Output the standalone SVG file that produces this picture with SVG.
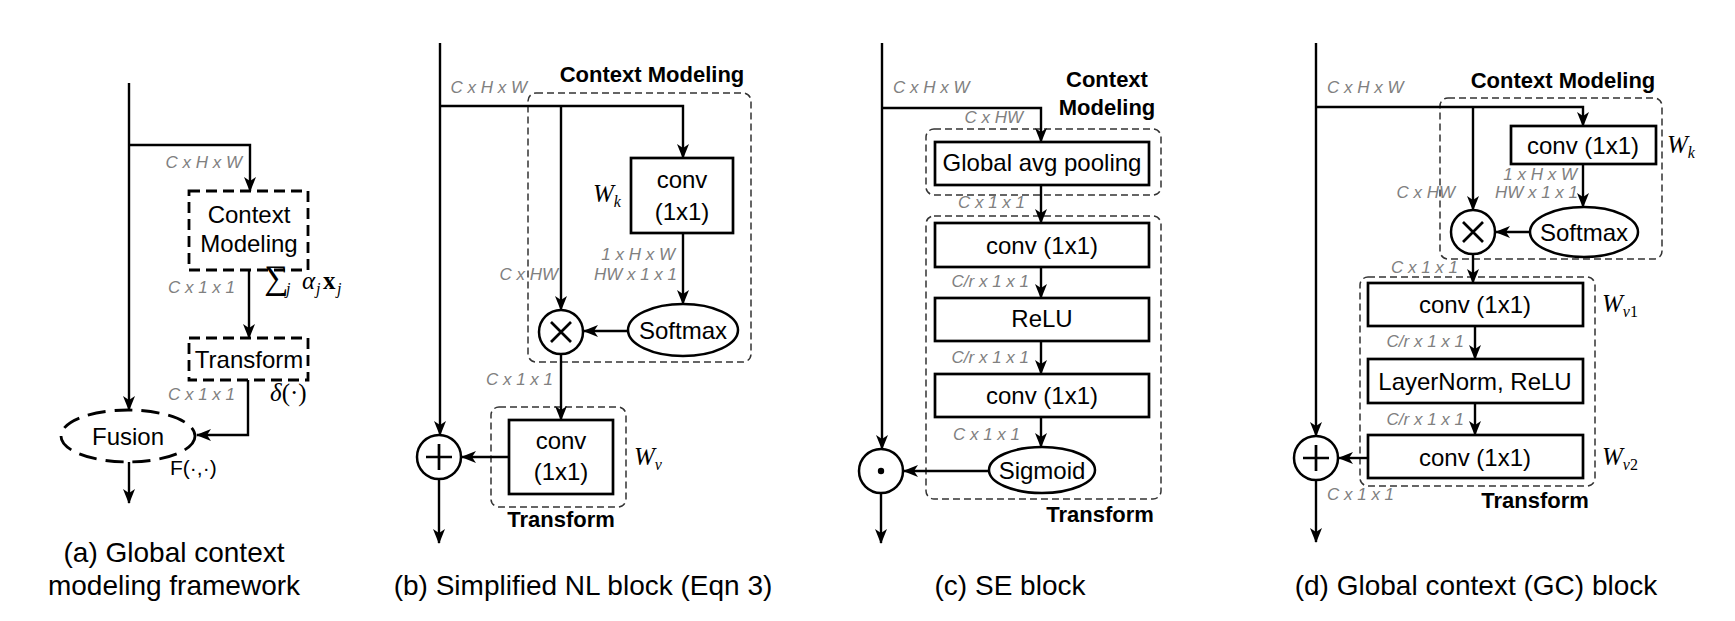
<svg xmlns="http://www.w3.org/2000/svg" width="1735" height="621" viewBox="0 0 1735 621">
<style>
.ln{stroke:#000;stroke-width:2.4;fill:none}
.ar{marker-end:url(#ah)}
.box{fill:#fff;stroke:#000;stroke-width:2.7}
.dbox{fill:#fff;stroke:#000;stroke-width:2.8;stroke-dasharray:11 6}
.grp{fill:none;stroke:#333;stroke-width:1.5;stroke-dasharray:7 4}
.op{fill:#fff;stroke:#000;stroke-width:2.5}
.sym{stroke:#000;stroke-width:2.7;fill:none}
text{font-family:"Liberation Sans",Arial,sans-serif;fill:#000}
.t{font-size:24px;text-anchor:middle}
.dim{font-style:italic;font-size:17px;fill:#808080}
.e{text-anchor:end}
.b{font-weight:bold;font-size:22px}
.mid{text-anchor:middle}
.cap{font-size:28px;text-anchor:middle}
.m{font-family:"Liberation Serif","DejaVu Serif",serif;font-style:italic;font-size:25px}
.sub{font-size:16px}
</style>
<defs>
<marker id="ah" markerUnits="userSpaceOnUse" markerWidth="15" markerHeight="12" viewBox="0 0 15 12" refX="14" refY="6" orient="auto">
<path d="M0,0 L15,6 L0,12 L4,6 Z" fill="#000"/>
</marker>
</defs>

<!-- ===== Panel (a) ===== -->
<g id="a-context"><rect class="dbox" x="189" y="191" width="119" height="79"/><text class="t" x="249" y="223">Context</text><text class="t" x="249" y="252">Modeling</text></g>
<g id="a-transform"><rect class="dbox" x="189" y="338" width="119" height="42"/><text class="t" x="249" y="368">Transform</text></g>
<g id="a-fusion"><ellipse cx="128" cy="436" rx="67" ry="26" fill="#fff" stroke="#000" stroke-width="2.8" stroke-dasharray="18 9"/><text class="t" x="128" y="445">Fusion</text></g>

<!-- ===== Panel (b) ===== -->
<g id="b-context-group"><rect class="grp" x="528" y="93" width="223" height="269" rx="8"/><text class="b mid" x="652" y="82">Context Modeling</text></g>
<g id="b-conv-k"><rect class="box" x="631" y="158" width="102" height="75"/><text class="t" x="682" y="188">conv</text><text class="t" x="682" y="220">(1x1)</text></g>
<g id="b-softmax"><ellipse class="op" cx="683" cy="330" rx="55" ry="26"/><text class="t" x="683" y="339">Softmax</text></g>
<g id="b-mul"><circle class="op" cx="561" cy="332" r="22"/><path class="sym" d="M551,322 L571,342 M571,322 L551,342"/></g>
<g id="b-transform-group"><rect class="grp" x="491" y="407" width="135" height="100" rx="8"/><text class="b mid" x="561" y="527">Transform</text></g>
<g id="b-conv-v"><rect class="box" x="509" y="420" width="104" height="74"/><text class="t" x="561" y="449">conv</text><text class="t" x="561" y="480">(1x1)</text></g>
<g id="b-add"><circle class="op" cx="439" cy="457" r="22"/><path class="sym" d="M426,457 H452 M439,444 V470"/></g>

<!-- ===== Panel (c) ===== -->
<g id="c-context-group"><rect class="grp" x="926" y="129" width="235" height="66" rx="8"/><text class="b mid" x="1107" y="87">Context</text><text class="b mid" x="1107" y="115">Modeling</text></g>
<g id="c-transform-group"><rect class="grp" x="926" y="216" width="235" height="283" rx="8"/><text class="b mid" x="1100" y="522">Transform</text></g>
<g id="c-gap"><rect class="box" x="935" y="142" width="214" height="43"/><text class="t" x="1042" y="171">Global avg pooling</text></g>
<g id="c-conv1"><rect class="box" x="935" y="223" width="214" height="44"/><text class="t" x="1042" y="254">conv (1x1)</text></g>
<g id="c-relu"><rect class="box" x="935" y="298" width="214" height="43"/><text class="t" x="1042" y="327">ReLU</text></g>
<g id="c-conv2"><rect class="box" x="935" y="374" width="214" height="43"/><text class="t" x="1042" y="404">conv (1x1)</text></g>
<g id="c-sigmoid"><ellipse class="op" cx="1042" cy="470" rx="53" ry="23"/><text class="t" x="1042" y="479">Sigmoid</text></g>
<g id="c-scale"><circle class="op" cx="881" cy="471" r="22"/><circle cx="881" cy="471" r="3.2" fill="#000"/></g>

<!-- ===== Panel (d) ===== -->
<g id="d-context-group"><rect class="grp" x="1440" y="98" width="222" height="161" rx="8"/><text class="b mid" x="1563" y="88">Context Modeling</text></g>
<g id="d-conv-k"><rect class="box" x="1511" y="126" width="145" height="38"/><text class="t" x="1583" y="154">conv (1x1)</text></g>
<g id="d-softmax"><ellipse class="op" cx="1584" cy="232" rx="54" ry="25"/><text class="t" x="1584" y="241">Softmax</text></g>
<g id="d-mul"><circle class="op" cx="1473" cy="232" r="22"/><path class="sym" d="M1463,222 L1483,242 M1483,222 L1463,242"/></g>
<g id="d-transform-group"><rect class="grp" x="1360" y="277" width="235" height="209" rx="8"/><text class="b mid" x="1535" y="508">Transform</text></g>
<g id="d-conv1"><rect class="box" x="1368" y="283" width="215" height="43"/><text class="t" x="1475" y="313">conv (1x1)</text></g>
<g id="d-ln"><rect class="box" x="1368" y="359" width="215" height="44"/><text class="t" x="1475" y="390">LayerNorm, ReLU</text></g>
<g id="d-conv2"><rect class="box" x="1368" y="435" width="215" height="43"/><text class="t" x="1475" y="466">conv (1x1)</text></g>
<g id="d-add"><circle class="op" cx="1316" cy="458" r="22"/><path class="sym" d="M1303,458 H1329 M1316,445 V471"/></g>

<!-- ===== Connectors ===== -->
<g id="connectors">
<!-- a -->
<path class="ln ar" d="M129,83 V410"/>
<path class="ln ar" d="M129,145 H250 V191"/>
<path class="ln ar" d="M249,270 V338"/>
<path class="ln ar" d="M248,380 V435 H197"/>
<path class="ln ar" d="M129,462 V503"/>
<!-- b -->
<path class="ln ar" d="M440,43 V435"/>
<path class="ln ar" d="M440,106 H683 V158"/>
<path class="ln ar" d="M561,106 V310"/>
<path class="ln ar" d="M683,233 V304"/>
<path class="ln ar" d="M628,331 H584"/>
<path class="ln ar" d="M561,354 V420"/>
<path class="ln ar" d="M509,457 H462"/>
<path class="ln ar" d="M439,479 V543"/>
<!-- c -->
<path class="ln ar" d="M882,43 V449"/>
<path class="ln ar" d="M882,108 H1041 V142"/>
<path class="ln ar" d="M1041,185 V223"/>
<path class="ln ar" d="M1041,267 V298"/>
<path class="ln ar" d="M1041,341 V374"/>
<path class="ln ar" d="M1041,417 V447"/>
<path class="ln ar" d="M989,471 H904"/>
<path class="ln ar" d="M881,493 V543"/>
<!-- d -->
<path class="ln ar" d="M1316,43 V436"/>
<path class="ln ar" d="M1316,107 H1583 V126"/>
<path class="ln ar" d="M1473,107 V210"/>
<path class="ln ar" d="M1583,164 V207"/>
<path class="ln ar" d="M1530,232 H1496"/>
<path class="ln ar" d="M1473,254 V283"/>
<path class="ln ar" d="M1475,326 V359"/>
<path class="ln ar" d="M1475,403 V435"/>
<path class="ln ar" d="M1368,458 H1339"/>
<path class="ln ar" d="M1316,480 V542"/>
</g>

<!-- ===== Labels ===== -->
<g id="labels">
<!-- a -->
<text class="dim e" x="242" y="168">C x H x W</text>
<text class="dim e" x="235" y="293">C x 1 x 1</text>
<text class="dim e" x="235" y="400">C x 1 x 1</text>
<text class="m" y="289" font-style="normal"><tspan x="264" font-size="34">∑</tspan><tspan class="sub" font-style="italic" x="286" dy="5">j</tspan><tspan font-style="italic" x="302" dy="-5">α</tspan><tspan class="sub" font-style="italic" x="316" dy="5">j</tspan><tspan font-style="normal" font-weight="bold" x="323" dy="-5">x</tspan><tspan class="sub" font-style="italic" x="337" dy="5">j</tspan></text>
<text class="m" x="270" y="401"><tspan font-style="italic">δ</tspan><tspan font-style="normal">(·)</tspan></text>
<text x="170" y="475" font-size="21">F(·,·)</text>
<!-- b -->
<text class="dim e" x="527" y="93">C x H x W</text>
<text class="dim e" x="675" y="260">1 x H x W</text>
<text class="dim e" x="677" y="280">HW x 1 x 1</text>
<text class="dim e" x="558" y="280">C x HW</text>
<text class="dim e" x="553" y="385">C x 1 x 1</text>
<text class="m" x="593" y="202">W<tspan class="sub" dy="5">k</tspan></text>
<text class="m" x="634" y="465">W<tspan class="sub" dy="5">v</tspan></text>
<!-- c -->
<text class="dim" x="893" y="93">C x H x W</text>
<text class="dim e" x="1023" y="123">C x HW</text>
<text class="dim e" x="1025" y="208">C x 1 x 1</text>
<text class="dim e" x="1029" y="287">C/r x 1 x 1</text>
<text class="dim e" x="1029" y="363">C/r x 1 x 1</text>
<text class="dim e" x="1020" y="440">C x 1 x 1</text>
<!-- d -->
<text class="dim" x="1327" y="93">C x H x W</text>
<text class="dim e" x="1577" y="180">1 x H x W</text>
<text class="dim e" x="1578" y="198">HW x 1 x 1</text>
<text class="dim e" x="1455" y="198">C x HW</text>
<text class="dim e" x="1458" y="273">C x 1 x 1</text>
<text class="dim e" x="1464" y="347">C/r x 1 x 1</text>
<text class="dim e" x="1464" y="425">C/r x 1 x 1</text>
<text class="dim" x="1327" y="500">C x 1 x 1</text>
<text class="m" x="1667" y="153">W<tspan class="sub" dy="5">k</tspan></text>
<text class="m" x="1602" y="312">W<tspan class="sub" dy="5">v<tspan font-style="normal">1</tspan></tspan></text>
<text class="m" x="1602" y="465">W<tspan class="sub" dy="5">v<tspan font-style="normal">2</tspan></tspan></text>
</g>

<!-- ===== Captions ===== -->
<g id="captions">
<text class="cap" x="174" y="562">(a) Global context</text>
<text class="cap" x="174" y="595">modeling framework</text>
<text class="cap" x="583" y="595">(b) Simplified NL block (Eqn 3)</text>
<text class="cap" x="1010" y="595">(c) SE block</text>
<text class="cap" x="1476" y="595">(d) Global context (GC) block</text>
</g>
</svg>
